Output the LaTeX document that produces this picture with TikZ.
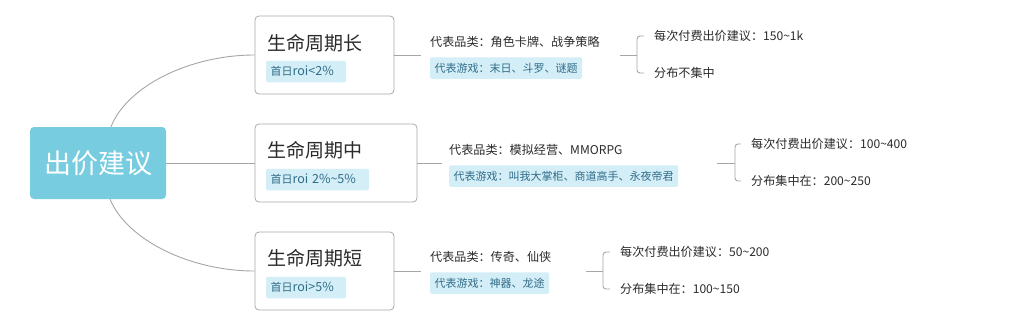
\documentclass[tikz,border=0pt]{standalone}
\usepackage{fontspec}
\setmainfont{Noto Sans CJK SC}
\definecolor{rootblue}{HTML}{77CCE0}
\definecolor{tagfill}{HTML}{D4EEF7}
\definecolor{tagtext}{HTML}{2F6C88}
\definecolor{linegray}{HTML}{A6A6A6}
\definecolor{boxgray}{HTML}{A9A9A9}
\definecolor{textdark}{HTML}{2B2B2B}
\newcommand{\lat}[1]{{\fontsize{12.5}{13}\selectfont #1}}
\begin{document}
\begin{tikzpicture}[x=1pt,y=-1pt,
  conn/.style={draw=linegray, line width=0.9pt},
  rootbox/.style={fill=rootblue, rounded corners=4pt, minimum width=136pt, minimum height=72pt, inner sep=0pt, text=white, font=\fontsize{27}{30}\selectfont},
  topicbox/.style={draw=boxgray, line width=0.8pt, fill=white, rounded corners=4pt, inner sep=0pt},
  title/.style={anchor=west, inner sep=0pt, text=textdark, font=\fontsize{19}{22}\selectfont},
  tag/.style={anchor=west, fill=tagfill, rounded corners=1.5pt, inner xsep=4.5pt, inner ysep=0pt, minimum height=21.5pt, text=tagtext, font=\fontsize{11}{13}\selectfont},
  roitag/.style={tag, text width=#1, align=left},
  leaf/.style={anchor=west, inner sep=0pt, text=textdark, font=\fontsize{12.1}{14}\selectfont}]
\useasboundingbox[fill=white] (0,0) rectangle (1024,319);

% root
\node[rootbox] (root) at (98,163) {出价建议};

% topic boxes
\node[topicbox, minimum width=139pt, minimum height=78pt] (b1) at (324.5,55) {};
\node[title] (t1) at (267,43) {生命周期长};
\node[roitag=71pt] (g1) at (266,71.5) {首日\lat{roi<2\%}};

\node[topicbox, minimum width=162pt, minimum height=78pt] (b2) at (336,163) {};
\node[title] (t2) at (267,150) {生命周期中};
\node[roitag=94pt] (g2) at (266,179.5) {首日\lat{roi 2\%\textasciitilde5\%}};

\node[topicbox, minimum width=139pt, minimum height=78pt] (b3) at (324.5,271) {};
\node[title] (t3) at (267,258) {生命周期短};
\node[roitag=71pt] (g3) at (266,287.5) {首日\lat{roi>5\%}};

% root connectors
\draw[conn] ([xshift=13pt]root.north) .. controls (127,86) and (190,55) .. (b1.west);
\draw[conn] (root.east) -- (b2.west);
\draw[conn] ([xshift=12pt]root.south) .. controls (127,240) and (190,271) .. (b3.west);

% branch 1
\coordinate (j1) at (421,55);
\draw[conn] (b1.east) -- (j1);
\node[leaf] (c1) at (430,42) {代表品类：角色卡牌、战争策略};
\node[tag] (d1) at (430,68) {代表游戏：末日、斗罗、谜题};
\coordinate (k1) at (620,55);
\coordinate (m1) at (637,55);
\draw[conn] (k1) -- (m1);
\node[leaf] (p1) at (654,36) {每次付费出价建议：150\textasciitilde1k};
\node[leaf] (q1) at (654,73) {分布不集中};
\draw[conn, rounded corners=3pt] ([xshift=-10pt]p1.west) -| (m1) |- ([xshift=-10pt]q1.west);

% branch 2
\coordinate (j2) at (442,163);
\draw[conn] (b2.east) -- (j2);
\node[leaf] (c2) at (449,150) {代表品类：模拟经营、MMORPG};
\node[tag] (d2) at (449,176) {代表游戏：叫我大掌柜、商道高手、永夜帝君};
\coordinate (k2) at (717,163);
\coordinate (m2) at (735,163);
\draw[conn] (k2) -- (m2);
\node[leaf] (p2) at (751,144) {每次付费出价建议：100\textasciitilde400};
\node[leaf] (q2) at (751,181) {分布集中在：200\textasciitilde250};
\draw[conn, rounded corners=3pt] ([xshift=-10pt]p2.west) -| (m2) |- ([xshift=-10pt]q2.west);

% branch 3
\coordinate (j3) at (421,271);
\draw[conn] (b3.east) -- (j3);
\node[leaf] (c3) at (430,257) {代表品类：传奇、仙侠};
\node[tag] (d3) at (430,283) {代表游戏：神器、龙途};
\coordinate (k3) at (586,271);
\coordinate (m3) at (603,271);
\draw[conn] (k3) -- (m3);
\node[leaf] (p3) at (620,252) {每次付费出价建议：50\textasciitilde200};
\node[leaf] (q3) at (620,289) {分布集中在：100\textasciitilde150};
\draw[conn, rounded corners=3pt] ([xshift=-10pt]p3.west) -| (m3) |- ([xshift=-10pt]q3.west);
\end{tikzpicture}
\end{document}
